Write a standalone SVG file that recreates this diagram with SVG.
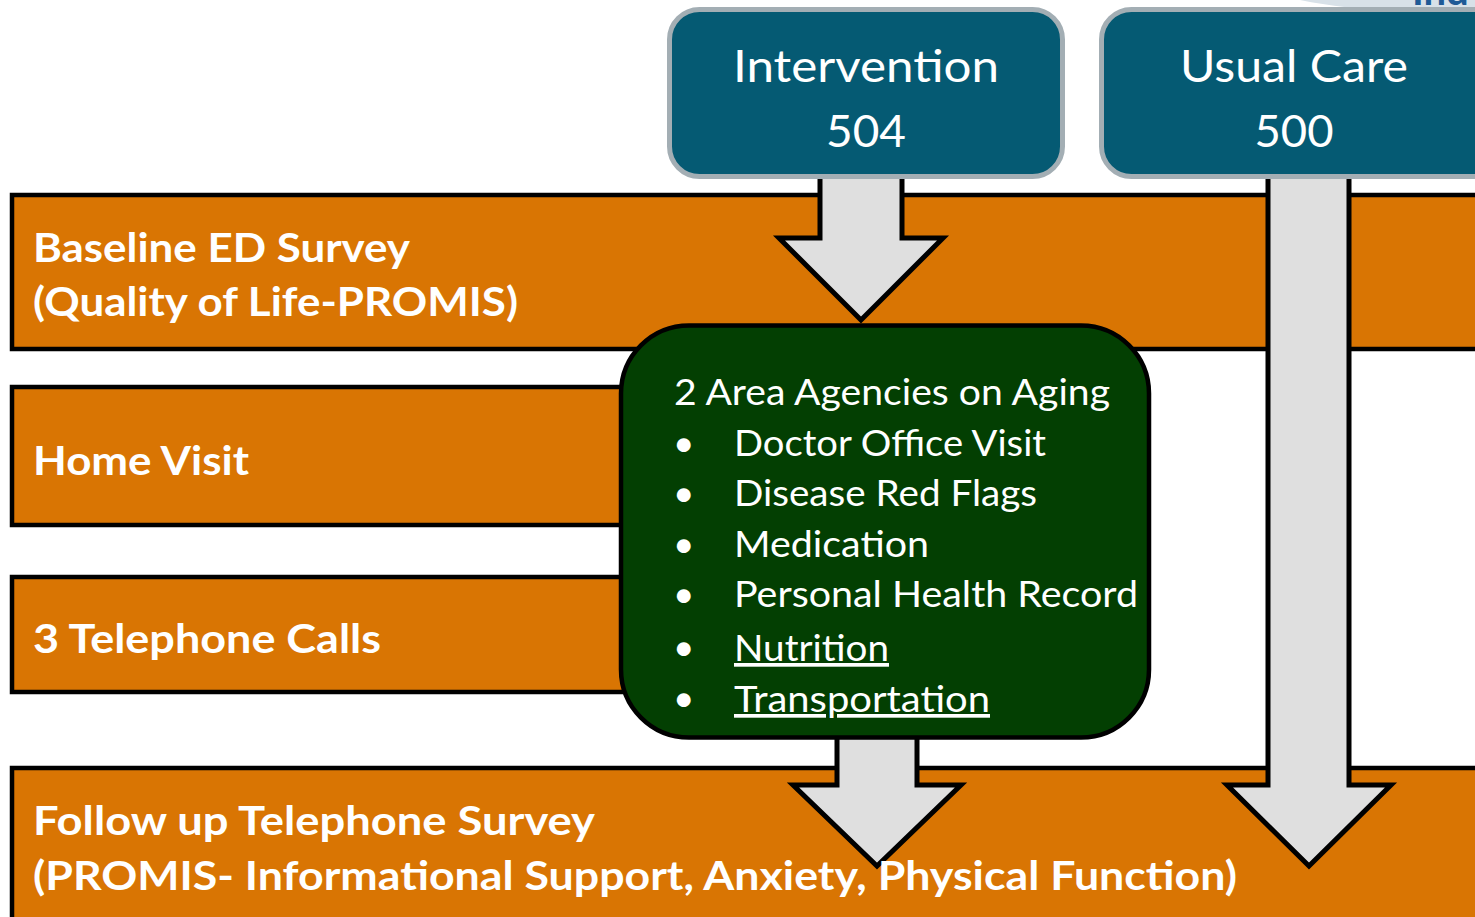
<svg xmlns="http://www.w3.org/2000/svg" width="1475" height="917" viewBox="0 0 1475 917">
<style>
.bar{fill:#D97503;stroke:#000;stroke-width:4.5}
.blue{fill:#055A73;stroke:#A3AEB4;stroke-width:5}
.arrow{fill:#DFDFDF;stroke:#000;stroke-width:5;stroke-linejoin:miter}
.lbl{font-family:Lato,"Open Sans",sans-serif;font-weight:bold;font-size:40px;fill:#fff}
.hd{font-family:Lato,"Open Sans",sans-serif;font-size:45px;fill:#fff;text-anchor:middle}
.gt{font-family:Lato,"Open Sans",sans-serif;font-size:37px;fill:#fff}
</style>
<rect width="1475" height="917" fill="#fff"/>
<g id="corner">
<path d="M1300,0 C1330,6 1360,10 1400,10 L1475,10 L1475,0 Z" fill="#D8E1E8"/>
<text x="1412" y="5" font-family="Lato,sans-serif" font-weight="bold" font-size="40" fill="#1F5A96">Ind</text>
</g>
<g id="bar-baseline">
<rect class="bar" x="12" y="195" width="1500" height="154"/>
<text class="lbl" x="33" y="262" textLength="377" lengthAdjust="spacingAndGlyphs">Baseline ED Survey</text>
<text class="lbl" x="33" y="316" textLength="485" lengthAdjust="spacingAndGlyphs">(Quality of Life-PROMIS)</text>
</g>
<g id="bar-home">
<rect class="bar" x="12" y="387" width="640" height="138"/>
<text class="lbl" x="33" y="475" textLength="216" lengthAdjust="spacingAndGlyphs">Home Visit</text>
</g>
<g id="bar-calls">
<rect class="bar" x="12" y="577" width="640" height="115"/>
<text class="lbl" x="33" y="653" textLength="348" lengthAdjust="spacingAndGlyphs">3 Telephone Calls</text>
</g>
<g id="bar-followup">
<rect class="bar" x="12" y="768" width="1500" height="200"/>
</g>
<g id="connectors">
<polygon class="arrow" points="820,170 902,170 902,238 943,238 861,320 779,238 820,238"/>
<polygon class="arrow" points="837,730 917,730 917,785 961,785 877,866 793,785 837,785"/>
<polygon class="arrow" points="1268,170 1349,170 1349,785 1391,785 1309,866 1227,785 1268,785"/>
</g>
<g id="followup-text">
<text class="lbl" x="33" y="835" textLength="562" lengthAdjust="spacingAndGlyphs">Follow up Telephone Survey</text>
<text class="lbl" x="33" y="890" textLength="1204" lengthAdjust="spacingAndGlyphs">(PROMIS- Informational Support, Anxiety, Physical Function)</text>
</g>
<g id="intervention">
<rect class="blue" x="669.5" y="9.5" width="393" height="167" rx="30"/>
<text class="hd" x="866" y="82" textLength="266" lengthAdjust="spacingAndGlyphs">Intervention</text>
<text class="hd" x="866" y="147" textLength="80" lengthAdjust="spacingAndGlyphs">504</text>
</g>
<g id="usual-care">
<rect class="blue" x="1101.5" y="9.5" width="420" height="167" rx="30"/>
<text class="hd" x="1294" y="82" textLength="228" lengthAdjust="spacingAndGlyphs">Usual Care</text>
<text class="hd" x="1294" y="147" textLength="79" lengthAdjust="spacingAndGlyphs">500</text>
</g>
<g id="agencies">
<rect x="621" y="325.5" width="528" height="412" rx="68" fill="#033F02" stroke="#000" stroke-width="4.5"/>
<text class="gt" x="674" y="405" textLength="436" lengthAdjust="spacingAndGlyphs">2 Area Agencies on Aging</text>
<g class="gt">
<text x="673" y="456">•</text>
<text x="673" y="506">•</text>
<text x="673" y="557">•</text>
<text x="673" y="607">•</text>
<text x="673" y="660">•</text>
<text x="673" y="711">•</text>
</g>
<text class="gt" x="734" y="456" textLength="312" lengthAdjust="spacingAndGlyphs">Doctor Office Visit</text>
<text class="gt" x="734" y="506" textLength="303" lengthAdjust="spacingAndGlyphs">Disease Red Flags</text>
<text class="gt" x="734" y="557" textLength="195" lengthAdjust="spacingAndGlyphs">Medication</text>
<text class="gt" x="734" y="607" textLength="404" lengthAdjust="spacingAndGlyphs">Personal Health Record</text>
<text class="gt" x="734" y="661" textLength="155" lengthAdjust="spacingAndGlyphs" text-decoration="underline">Nutrition</text>
<text class="gt" x="734" y="712" textLength="256" lengthAdjust="spacingAndGlyphs" text-decoration="underline">Transportation</text>
</g>
</svg>
